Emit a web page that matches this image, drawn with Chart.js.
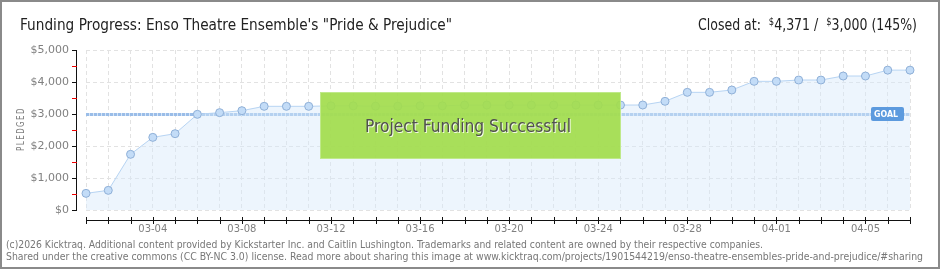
<!DOCTYPE html>
<html lang="en">

<head>
    <meta charset="UTF-8">
    <title>Funding Progress</title>
    <script src="https://cdn.jsdelivr.net/npm/chart.js"></script>
    <style>
        html, body {
            margin: 0;
            padding: 0;
            background: white;
        }

        #wrap {
            position: relative;
            width: 940px;
            height: 270px;
        }
    </style>
</head>

<body>
    <div id="wrap">
        <canvas id="fundChart" width="940" height="270"></canvas>
    </div>

    <script>
        // days of the campaign
        const days = [
            "03-01", "03-02", "03-03", "03-04", "03-05", "03-06", "03-07", "03-08",
            "03-09", "03-10", "03-11", "03-12", "03-13", "03-14", "03-15", "03-16",
            "03-17", "03-18", "03-19", "03-20", "03-21", "03-22", "03-23", "03-24",
            "03-25", "03-26", "03-27", "03-28", "03-29", "03-30", "03-31", "04-01",
            "04-02", "04-03", "04-04", "04-05", "04-06", "04-07"
        ];
        // pledged total per day ($)
        const pledged = [
            520, 614, 1740, 2270, 2385, 2990, 3042, 3104, 3240, 3240, 3240,
            3255, 3255, 3245, 3245, 3255, 3255, 3280, 3280, 3280, 3280, 3280, 3280, 3280,
            3280, 3281, 3396, 3677, 3677, 3750, 4021, 4021, 4062, 4062, 4187, 4187, 4371, 4371
        ];
        const goal = 3000;
        const yTicks = [0, 1000, 2000, 3000, 4000, 5000];

        const titleText = "Funding Progress: Enso Theatre Ensemble's \"Pride & Prejudice\"";
        const footer1 = "(c)2026 Kicktraq. Additional content provided by Kickstarter Inc. and Caitlin Lushington. Trademarks and related content are owned by their respective companies.";
        const footer2 = "Shared under the creative commons (CC BY-NC 3.0) license. Read more about sharing this image at www.kicktraq.com/projects/1901544219/enso-theatre-ensembles-pride-and-prejudice/#sharing";

        // draw text squeezed/stretched to a given width
        function fitText(ctx, text, x, y, w) {
            const m = ctx.measureText(text).width;
            ctx.save();
            ctx.translate(x, y);
            ctx.scale(w / m, 1);
            ctx.fillText(text, 0, 0);
            ctx.restore();
        }

        const money = v => "$" + v.toLocaleString("en-US");
        const FONT = '"DejaVu Sans Condensed", "Liberation Sans Narrow", Roboto, sans-serif';

        const decor = {
            id: "decor",
            beforeDraw(chart) {
                const ctx = chart.ctx;
                ctx.save();
                ctx.fillStyle = "white";
                ctx.fillRect(0, 0, 940, 270);

                // title
                ctx.fillStyle = "#222";
                ctx.textBaseline = "alphabetic";
                ctx.font = "15px " + FONT;
                fitText(ctx, titleText, 20, 30, 432);

                // closed at
                const parts = [
                    ["Closed at:  ", 15, 0],
                    ["$", 10, -5],
                    ["4,371 /  ", 15, 0],
                    ["$", 10, -5],
                    ["3,000 (145%)", 15, 0]
                ];
                let total = 0;
                parts.forEach(p => {
                    ctx.font = p[1] + "px " + FONT;
                    total += ctx.measureText(p[0]).width;
                });
                const k = 219 / total;
                let cx = 698;
                parts.forEach(p => {
                    ctx.font = p[1] + "px " + FONT;
                    const w = ctx.measureText(p[0]).width * k;
                    fitText(ctx, p[0], cx, 30 + p[2], w);
                    cx += w;
                });

                // footer
                ctx.fillStyle = "#777";
                ctx.font = '10px "DejaVu Sans Condensed", "DejaVu Sans", sans-serif';
                fitText(ctx, footer1, 6, 248, 757);
                fitText(ctx, footer2, 6, 260, 917);

                // y axis title
                ctx.save();
                ctx.translate(24, 151);
                ctx.rotate(-Math.PI / 2);
                ctx.fillStyle = "#808080";
                ctx.font = '10px "DejaVu Sans", sans-serif';
                ctx.letterSpacing = "2px";
                fitText(ctx, "PLEDGED", 0, 0, 44);
                ctx.restore();

                // frame
                ctx.strokeStyle = "#8a8a8a";
                ctx.lineWidth = 2;
                ctx.strokeRect(1, 1, 938, 267);
                ctx.restore();
            },
            beforeDatasetsDraw(chart) {
                const ctx = chart.ctx;
                const y = chart.scales.y;
                const x = chart.scales.x;
                const area = chart.chartArea;
                ctx.save();

                // axis lines and ticks
                ctx.strokeStyle = "#111";
                ctx.lineWidth = 1;
                ctx.beginPath();
                ctx.moveTo(76.5, area.top);
                ctx.lineTo(76.5, area.bottom + 0.5);
                ctx.stroke();
                for (let v = 0; v <= 5000; v += 500) {
                    const py = Math.round(y.getPixelForValue(v)) + 0.5;
                    ctx.strokeStyle = v % 1000 === 0 ? "#111" : "#e00";
                    ctx.beginPath();
                    ctx.moveTo(72, py);
                    ctx.lineTo(77, py);
                    ctx.stroke();
                }
                ctx.strokeStyle = "#111";
                ctx.beginPath();
                ctx.moveTo(area.left, 220.5);
                ctx.lineTo(area.right, 220.5);
                ctx.stroke();
                days.forEach((d, i) => {
                    const px = Math.round(x.getPixelForValue(i)) + 0.5;
                    ctx.beginPath();
                    ctx.moveTo(px, 217);
                    ctx.lineTo(px, 224);
                    ctx.stroke();
                });

                // goal line
                const gy = Math.round(y.getPixelForValue(goal));
                ctx.strokeStyle = "#d6e5f7";
                ctx.lineWidth = 3;
                ctx.beginPath();
                ctx.moveTo(area.left, gy + 0.5);
                ctx.lineTo(area.right, gy + 0.5);
                ctx.stroke();
                ctx.strokeStyle = "#9abde8";
                ctx.setLineDash([3, 1]);
                ctx.beginPath();
                ctx.moveTo(area.left, gy + 0.5);
                ctx.lineTo(area.right, gy + 0.5);
                ctx.stroke();
                ctx.restore();
            },
            afterDatasetsDraw(chart) {
                const ctx = chart.ctx;
                const y = chart.scales.y;
                ctx.save();

                // success banner
                ctx.fillStyle = "rgba(163, 221, 78, 0.93)";
                ctx.fillRect(320, 92, 301, 67);
                ctx.strokeStyle = "#bfe98a";
                ctx.lineWidth = 1;
                ctx.strokeRect(320.5, 92.5, 300, 66);
                ctx.font = "17px " + FONT;
                ctx.textBaseline = "alphabetic";
                ctx.fillStyle = "rgba(255,255,255,0.85)";
                fitText(ctx, "Project Funding Successful", 366, 133, 206);
                ctx.fillStyle = "#505050";
                fitText(ctx, "Project Funding Successful", 365, 132, 206);

                // goal label
                const gy = y.getPixelForValue(goal);
                ctx.fillStyle = "#5c9ade";
                ctx.beginPath();
                ctx.roundRect(871, gy - 7, 33, 14, 2);
                ctx.fill();
                ctx.fillStyle = "white";
                ctx.font = 'bold 9px "DejaVu Sans", sans-serif';
                ctx.textBaseline = "middle";
                fitText(ctx, "GOAL", 874, gy + 0.5, 24);
                ctx.restore();
            }
        };

        const ctx = document.getElementById("fundChart").getContext("2d");
        const fundChart = new Chart(ctx, {
            type: "line",
            data: {
                labels: days,
                datasets: [{
                    label: "Pledged",
                    data: pledged,
                    borderColor: "#b7d4f3",
                    backgroundColor: "rgba(214, 232, 250, 0.45)",
                    borderWidth: 1,
                    fill: true,
                    tension: 0,
                    pointRadius: 4,
                    pointBackgroundColor: "#c3dcf7",
                    pointBorderColor: "#8fb0d8",
                    pointBorderWidth: 1
                }]
            },
            plugins: [decor],
            options: {
                responsive: false,
                animation: false,
                events: [],
                layout: {
                    padding: { top: 50, right: 30, left: 0, bottom: 0 }
                },
                plugins: {
                    legend: { display: false },
                    tooltip: { enabled: false }
                },
                scales: {
                    x: {
                        offset: false,
                        afterFit(scale) { scale.height = 60; },
                        border: { display: false, dash: [4, 3] },
                        grid: { color: "#e2e2e2", drawTicks: false },
                        ticks: {
                            autoSkip: false,
                            maxRotation: 0,
                            padding: 13,
                            color: "#808080",
                            font: { family: '"DejaVu Sans", sans-serif', size: 10 },
                            callback: (v, i) => (i % 4 === 3 ? days[i] : "")
                        }
                    },
                    y: {
                        min: 0,
                        max: 5000,
                        afterFit(scale) { scale.width = 86; },
                        afterBuildTicks(scale) { scale.ticks = yTicks.map(v => ({ value: v })); },
                        border: { display: false, dash: [4, 3] },
                        grid: { color: "#e2e2e2", drawTicks: false },
                        ticks: {
                            padding: 17,
                            color: "#808080",
                            font: { family: '"DejaVu Sans", sans-serif', size: 11 },
                            callback: v => money(v)
                        }
                    }
                }
            }
        });
    </script>
</body>

</html>
